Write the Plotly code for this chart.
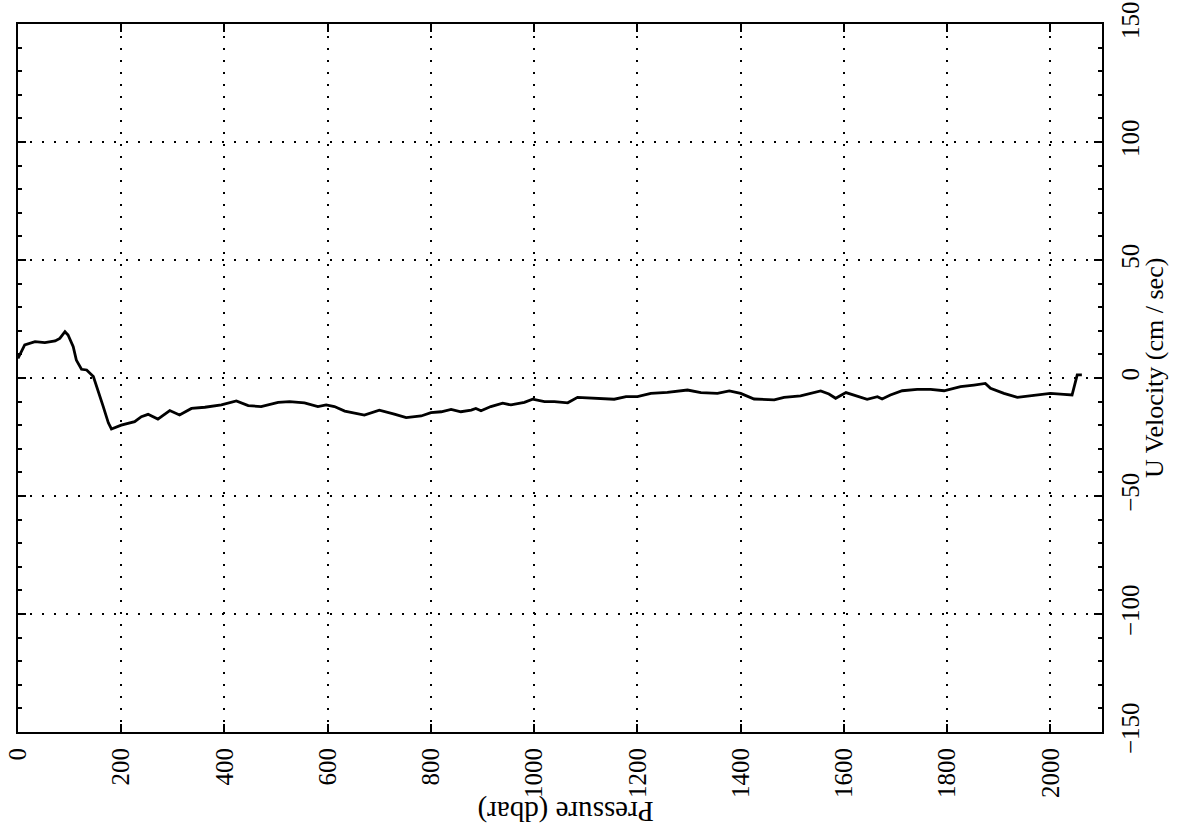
import plotly.graph_objects as go

pressure = [0, 13, 33, 52, 72, 81, 91, 97, 107, 113, 123, 133, 146, 155, 165, 175, 181,
            200, 213, 226, 239, 252, 271, 294, 313, 336, 362, 394, 423, 446, 471, 504, 526,
            555, 581, 597, 613, 633, 671, 700, 729, 752, 781, 800, 820, 839, 858, 878, 887,
            897, 916, 939, 955, 981, 997, 1020, 1039, 1065, 1084, 1123, 1155, 1178, 1200,
            1226, 1258, 1297, 1323, 1355, 1378, 1400, 1426, 1465, 1484, 1516, 1536, 1555,
            1571, 1584, 1604, 1620, 1645, 1665, 1674, 1690, 1713, 1742, 1768, 1794, 1826,
            1852, 1874, 1884, 1910, 1936, 1949, 1974, 2000, 2026, 2042, 2052, 2061]
u_velocity = [8.3, 14, 15.4, 15, 15.7, 16.8, 19.6, 18.2, 13.3, 7.6, 3.7, 3.4, 0.6, -5, -12, -19, -21.6,
              -20, -19.2, -18.5, -16.4, -15.4, -17.4, -13.8, -15.7, -12.9, -12.4, -11.4, -9.7, -11.7, -12.1, -10.3, -10,
              -10.5, -12.1, -11.4, -12.1, -14, -15.7, -13.6, -15.3, -16.8, -16.1, -14.7, -14.3, -13.3, -14.3, -13.6, -12.9,
              -13.9, -12.1, -10.7, -11.4, -10.3, -9, -10, -10, -10.5, -8.2, -8.6, -9, -7.9, -7.9,
              -6.5, -6.1, -5.1, -6.2, -6.5, -5.5, -6.5, -8.9, -9.3, -8.2, -7.6, -6.5, -5.5,
              -6.8, -8.6, -6.2, -7.2, -9, -7.9, -8.9, -7.2, -5.4, -4.8, -4.8, -5.4, -3.7,
              -3, -2.3, -4.4, -6.5, -8.2, -7.9, -7.2, -6.5, -6.9, -7.2, 1.3, 1.3]

x_ticks = list(range(0, 2001, 200))
y_ticks = list(range(-150, 151, 50))

FONT = "Liberation Serif, Times New Roman, Times, serif"

fig = go.Figure()
fig.add_trace(go.Scatter(x=pressure, y=u_velocity, mode="lines",
                         line=dict(color="black", width=2.8), showlegend=False))

fig.update_layout(
    width=1189, height=834,
    margin=dict(l=18, r=87, t=24, b=102, autoexpand=False),
    paper_bgcolor="white", plot_bgcolor="white",
    font=dict(family=FONT, size=25, color="black"),
    xaxis=dict(range=[0, 2100], tickvals=x_ticks, tickangle=-90, automargin=False,
               ticklabeloverflow="allow", ticklabelstandoff=4,
               showline=True, linecolor="black", linewidth=2, mirror="ticks",
               ticks="inside", ticklen=8, tickcolor="black", tickwidth=1.5,
               showgrid=True, gridcolor="black", gridwidth=1.5, griddash="2px,10px",
               zeroline=False, tickfont=dict(family=FONT, size=25)),
    yaxis=dict(range=[-150, 150], tickvals=y_ticks, side="right", tickangle=-90, automargin=False,
               ticklabeloverflow="allow", ticklabelstandoff=5,
               showline=True, linecolor="black", linewidth=2, mirror="ticks",
               ticks="inside", ticklen=8, tickcolor="black", tickwidth=1.5,
               minor=dict(dtick=10, tick0=0, ticks="inside", ticklen=4, tickcolor="black", showgrid=False),
               showgrid=True, gridcolor="black", gridwidth=1.5, griddash="2px,10px",
               zeroline=False, tickfont=dict(family=FONT, size=25)),
    annotations=[
        dict(text="Pressure (dbar)", xref="paper", yref="paper", x=0.505, y=-0.112,
             xanchor="center", yanchor="middle", textangle=180, showarrow=False,
             font=dict(family=FONT, size=29)),
        dict(text="U Velocity (cm / sec)", xref="paper", yref="paper", x=1.048, y=0.514,
             xanchor="center", yanchor="middle", textangle=-90, showarrow=False,
             font=dict(family=FONT, size=26)),
    ],
)

fig.write_html("out.html", config={"displayModeBar": False},
               post_script="document.body.style.margin='0';document.body.style.overflow='hidden';")
